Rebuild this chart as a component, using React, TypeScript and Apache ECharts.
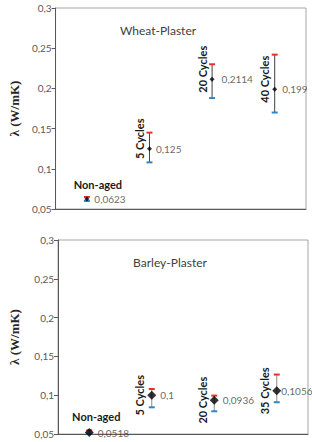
import React, { useEffect, useRef } from "react";
import * as echarts from "echarts";

// Thermal conductivity of aged plasters: mean value with upper / lower bounds
const wheatCategories = ["Non-aged", "5 Cycles", "20 Cycles", "40 Cycles"];
const wheatMean = [0.0623, 0.125, 0.2114, 0.199];
const wheatUpper = [0.065, 0.145, 0.23, 0.242];
const wheatLower = [0.06, 0.108, 0.188, 0.17];

const barleyCategories = ["Non-aged", "5 Cycles", "20 Cycles", "35 Cycles"];
const barleyMean = [0.0518, 0.1, 0.0936, 0.1056];
const barleyUpper = [0.0547, 0.108, 0.0995, 0.1266];
const barleyLower = [0.0505, 0.0844, 0.0793, 0.0909];

const positions = [1, 2, 3, 4];
const yMin = 0.05;
const yMax = 0.3;
const yStep = 0.05;

const FONT = "Lato, 'Open Sans', sans-serif";
const SERIF = "Liberation Serif, Times New Roman, serif";
const RED = "#e8302a";
const BLUE = "#2f86c8";

const comma = (v: number, digits = 4) =>
  String(Number(v.toFixed(digits))).replace(".", ",");

function panel(
  idx: number,
  cats: string[],
  mean: number[],
  upper: number[],
  lower: number[],
  opts: {
    stem: string;
    symbolSize: number;
    rotDx: number;
    rotDy: number;
    flatDx: number;
    flatDy: number;
    labelGap: number[];
  }
) {
  const errorBars = {
    type: "custom",
    xAxisIndex: idx,
    yAxisIndex: idx,
    clip: false,
    z: 2,
    encode: { x: 0, y: [1, 2] },
    data: positions.map((p, i) => [p, lower[i], upper[i]]),
    renderItem: (_params: any, api: any) => {
      const x = api.value(0);
      const lo = api.coord([x, api.value(1)]);
      const hi = api.coord([x, api.value(2)]);
      const half = 3;
      return {
        type: "group",
        children: [
          {
            type: "line",
            shape: { x1: lo[0], y1: lo[1], x2: hi[0], y2: hi[1] },
            style: { stroke: opts.stem, lineWidth: 1 },
          },
          {
            type: "line",
            shape: { x1: hi[0] - half, y1: hi[1], x2: hi[0] + half, y2: hi[1] },
            style: { stroke: RED, lineWidth: 2 },
          },
          {
            type: "line",
            shape: { x1: lo[0] - half, y1: lo[1], x2: lo[0] + half, y2: lo[1] },
            style: { stroke: BLUE, lineWidth: 2 },
          },
        ],
      };
    },
  };

  const points = {
    type: "scatter",
    xAxisIndex: idx,
    yAxisIndex: idx,
    z: 4,
    symbol: "diamond",
    symbolSize: opts.symbolSize,
    itemStyle: { color: "#000000" },
    data: positions.map((p, i) => ({
      value: [p, mean[i]],
      label: { distance: opts.labelGap[i] },
    })),
    label: {
      show: true,
      position: "right",
      formatter: (p: any) => comma(p.value[1]),
      fontFamily: FONT,
      fontSize: 10,
      color: "#404040",
    },
  };

  const categoryLabels = {
    type: "custom",
    xAxisIndex: idx,
    yAxisIndex: idx,
    clip: false,
    z: 3,
    silent: true,
    data: positions.map((p, i) => [p, mean[i]]),
    renderItem: (params: any, api: any) => {
      const pt = api.coord([api.value(0), api.value(1)]);
      const name = cats[params.dataIndex];
      const flat = params.dataIndex === 0;
      return {
        type: "text",
        x: pt[0] + (flat ? opts.flatDx : opts.rotDx),
        y: pt[1] + (flat ? opts.flatDy : opts.rotDy),
        rotation: flat ? 0 : Math.PI / 2,
        style: {
          text: name,
          align: "center",
          verticalAlign: "middle",
          fontFamily: FONT,
          fontWeight: "bold",
          fontSize: 11,
          fill: "#1a1a1a",
        },
      };
    },
  };

  return [errorBars, categoryLabels, points];
}

function makeXAxis(gridIndex: number) {
  return {
    type: "value",
    gridIndex,
    min: 0.5,
    max: 4.5,
    axisLine: { show: true, lineStyle: { color: "#595959", width: 1 } },
    axisTick: { show: false },
    axisLabel: { show: false },
    splitLine: { show: false },
  };
}

function makeYAxis(gridIndex: number, nameGap: number) {
  return {
    type: "value",
    gridIndex,
    min: yMin,
    max: yMax,
    interval: yStep,
    name: "λ (W/mK)",
    nameLocation: "middle",
    nameGap,
    nameTextStyle: {
      fontFamily: SERIF,
      fontWeight: "bold",
      fontSize: 13,
      color: "#262626",
    },
    axisLine: { show: true, lineStyle: { color: "#595959", width: 1 } },
    axisTick: { show: true, inside: false, length: 4, lineStyle: { color: "#595959" } },
    axisLabel: {
      formatter: (v: number) => comma(v, 2),
      fontFamily: FONT,
      fontSize: 10,
      color: "#595959",
      margin: 4,
    },
    splitLine: { show: false },
  };
}

export default function App() {
  const ref = useRef<HTMLDivElement>(null);

  useEffect(() => {
    if (!ref.current) return;
    const chart = echarts.init(ref.current, null, { renderer: "svg" });

    const option = {
      animation: false,
      backgroundColor: "#ffffff",
      grid: [
        {
          left: 41,
          top: 8,
          right: 6,
          height: 201,
          show: true,
          borderColor: "#a6a6a6",
          borderWidth: 1,
          backgroundColor: "transparent",
        },
        {
          left: 49,
          top: 240,
          right: 4,
          height: 194,
          show: true,
          borderColor: "#a6a6a6",
          borderWidth: 1,
          backgroundColor: "transparent",
        },
      ],
      xAxis: [makeXAxis(0), makeXAxis(1)],
      yAxis: [makeYAxis(0, 32), makeYAxis(1, 37)],
      graphic: [
        {
          type: "text",
          x: 158,
          y: 30,
          style: {
            text: "Wheat-Plaster",
            align: "center",
            verticalAlign: "middle",
            fontFamily: FONT,
            fontSize: 12,
            fill: "#404040",
          },
        },
        {
          type: "text",
          x: 170,
          y: 262,
          style: {
            text: "Barley-Plaster",
            align: "center",
            verticalAlign: "middle",
            fontFamily: FONT,
            fontSize: 12,
            fill: "#404040",
          },
        },
      ],
      series: [
        ...panel(0, wheatCategories, wheatMean, wheatUpper, wheatLower, {
          stem: "#404040",
          symbolSize: 5,
          rotDx: -10,
          rotDy: -10,
          flatDx: 11,
          flatDy: -15,
          labelGap: [5, 4, 7, 5],
        }),
        ...panel(1, barleyCategories, barleyMean, barleyUpper, barleyLower, {
          stem: "#8c8c8c",
          symbolSize: 9,
          rotDx: -12,
          rotDy: 0,
          flatDx: 7,
          flatDy: -16,
          labelGap: [4, 4, 4, 0],
        }),
      ],
    };

    chart.setOption(option as any);
    return () => chart.dispose();
  }, []);

  return (
    <div
      ref={ref}
      style={{ position: "fixed", left: 0, top: 0, width: 312, height: 442 }}
    />
  );
}
